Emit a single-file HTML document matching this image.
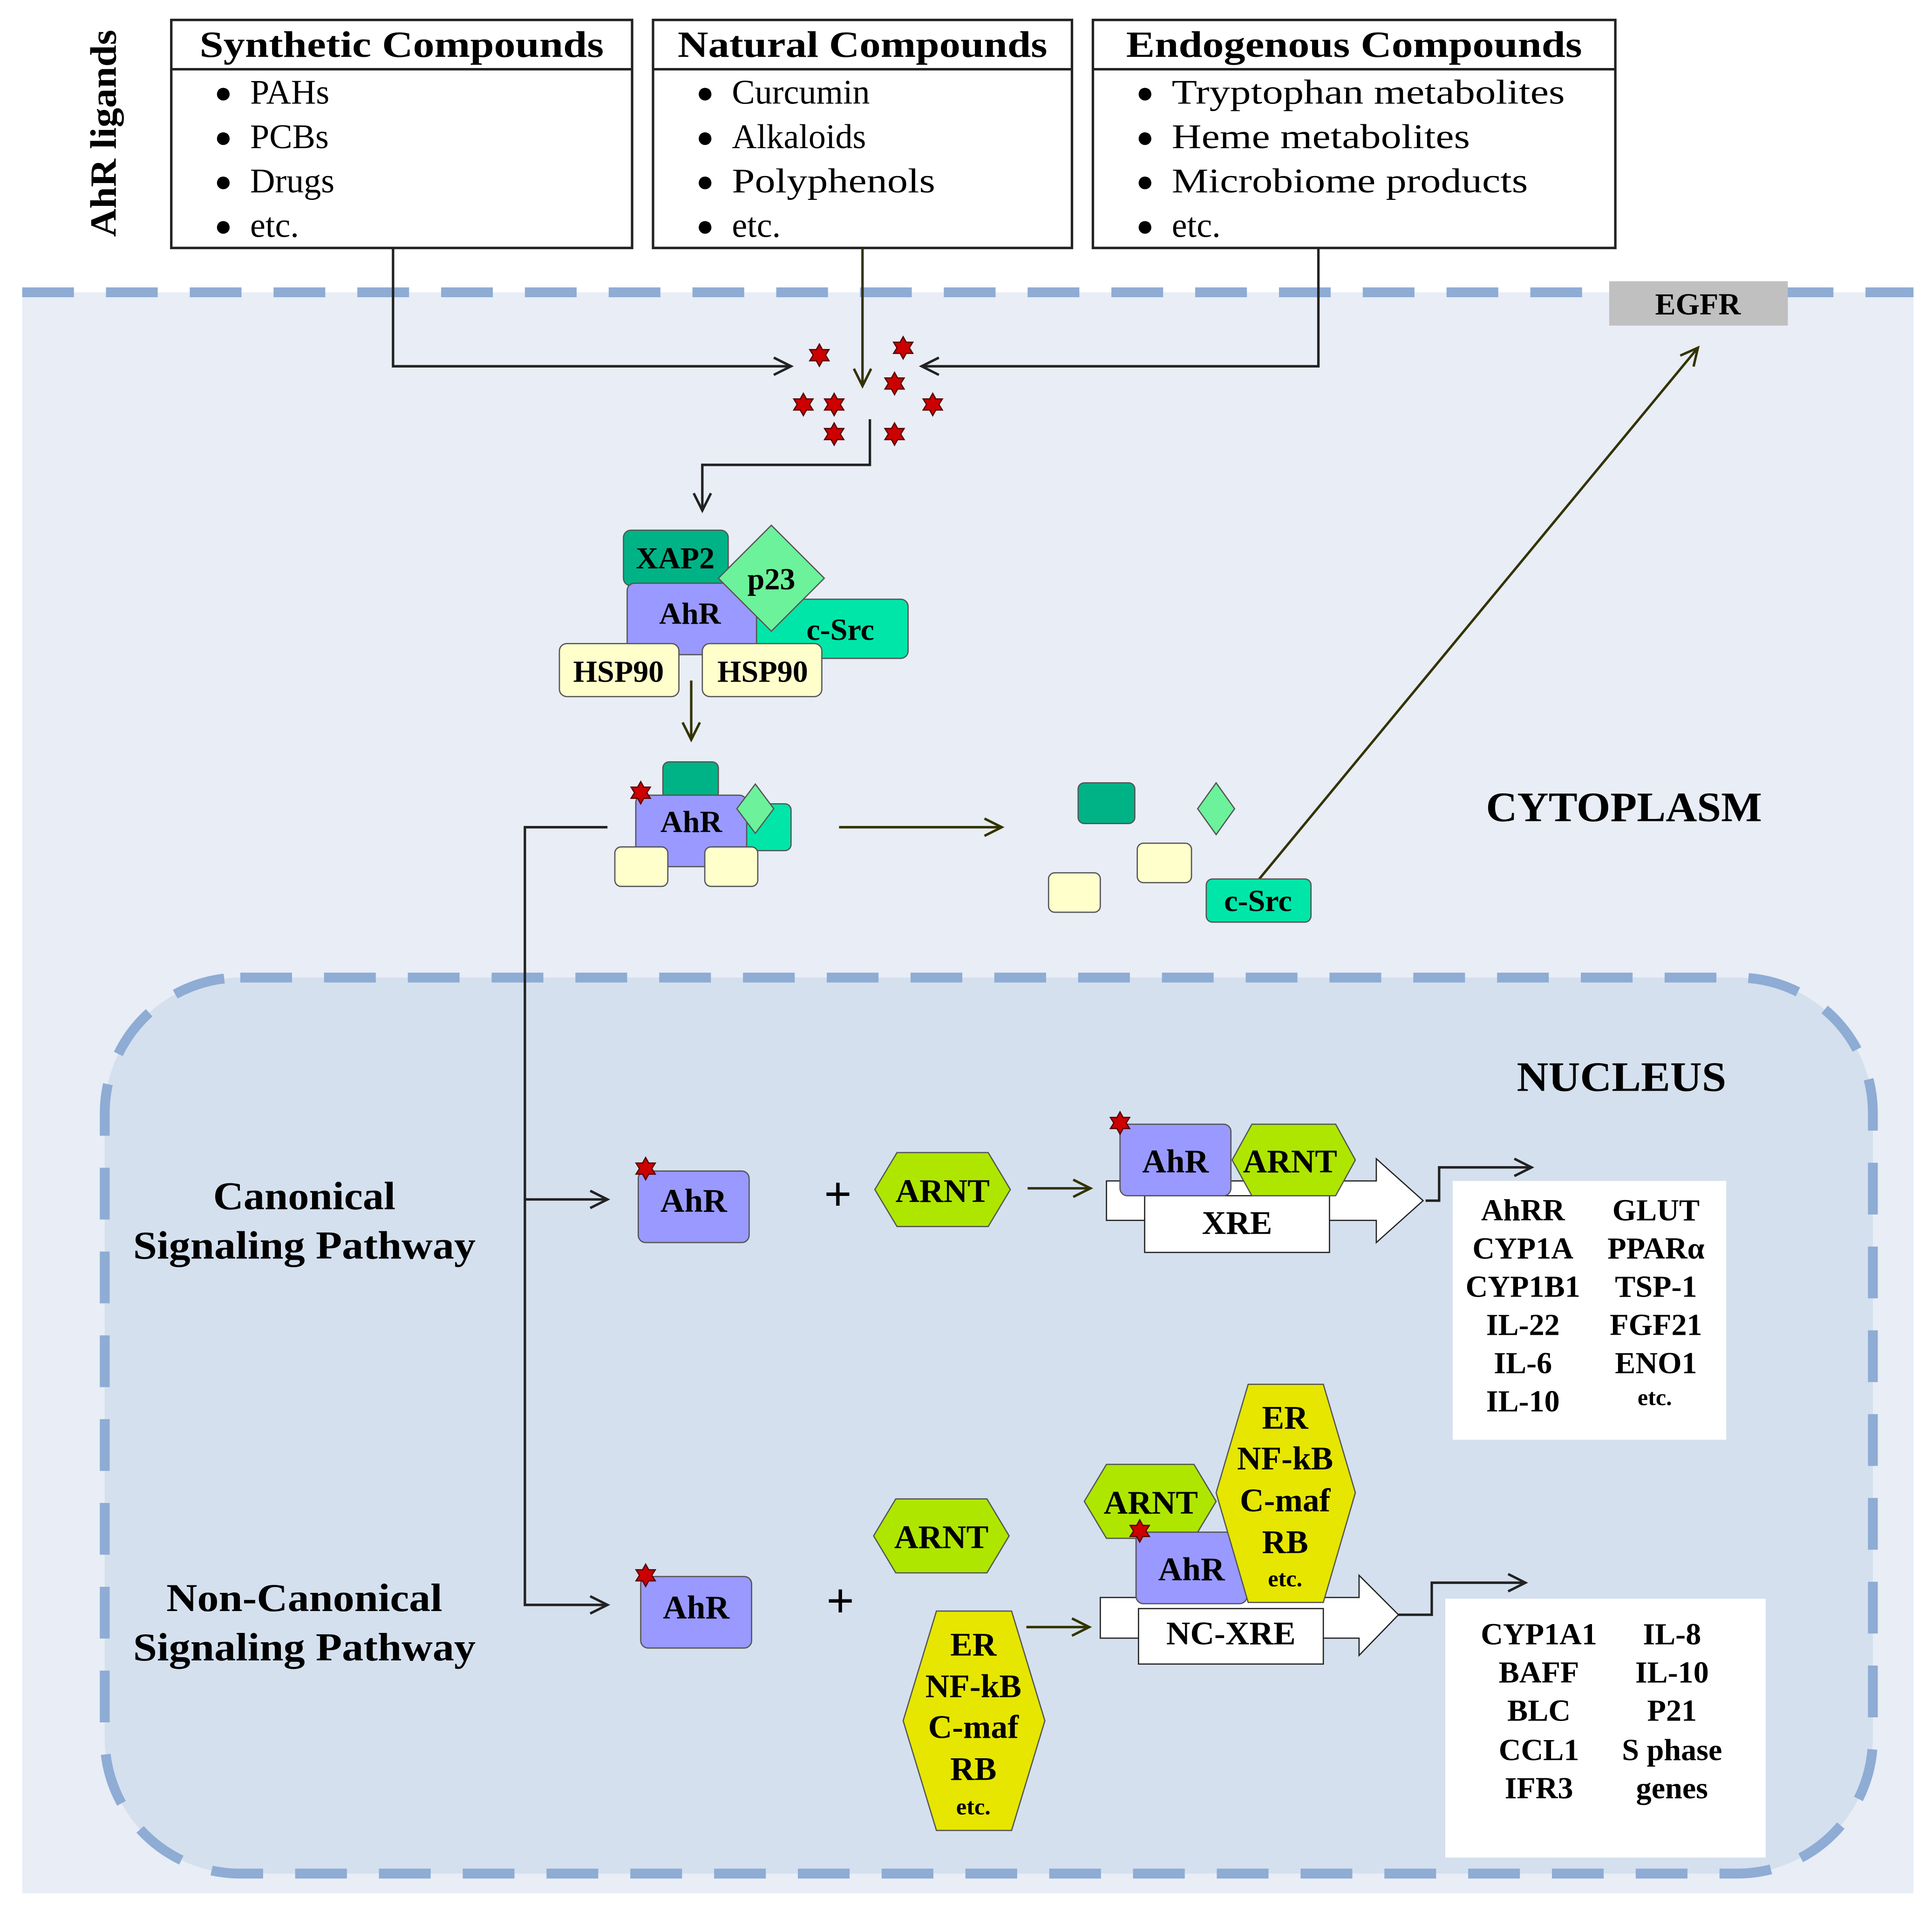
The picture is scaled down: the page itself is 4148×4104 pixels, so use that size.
<!DOCTYPE html>
<html><head><meta charset="utf-8"><style>html,body{margin:0;padding:0;background:#fff}svg{display:block}</style></head><body>
<svg width="4148" height="4104" viewBox="0 0 1568 1551" xmlns="http://www.w3.org/2000/svg" font-family="Liberation Serif, serif">
<defs>
<marker id="a" markerWidth="20" markerHeight="20" refX="16" refY="10" orient="auto" markerUnits="userSpaceOnUse"><path d="M2,3 L16,10 L2,17" fill="none" stroke="#222" stroke-width="2"/></marker>
<marker id="g" markerWidth="20" markerHeight="20" refX="16" refY="10" orient="auto" markerUnits="userSpaceOnUse"><path d="M2,3 L16,10 L2,17" fill="none" stroke="#333300" stroke-width="2"/></marker>
<g id="star"><polygon points="0,-9 2.5,-4.5 7.8,-4.5 5,0 7.8,4.5 2.5,4.5 0,9 -2.5,4.5 -7.8,4.5 -5,0 -7.8,-4.5 -2.5,-4.5" fill="#cc0000" stroke="#550000" stroke-width="1"/></g>
</defs>
<rect x="18" y="237" width="1535" height="1299" fill="#e8edf6"/>
<line x1="18" y1="237" x2="1553" y2="237" stroke="#8eacd4" stroke-width="8" stroke-dasharray="42,26"/>
<rect x="85" y="793" width="1435" height="727" rx="110" fill="#d4e0ee" stroke="#8eacd4" stroke-width="8" stroke-dasharray="42,26"/>

<text transform="translate(94,108) rotate(-90)" text-anchor="middle" font-weight="bold" font-size="30" textLength="168" lengthAdjust="spacingAndGlyphs">AhR ligands</text>

<g fill="#fff" stroke="#222" stroke-width="2">
<rect x="139" y="16" width="374" height="185"/><line x1="139" y1="56" x2="513" y2="56"/>
<rect x="530" y="16" width="340" height="185"/><line x1="530" y1="56" x2="870" y2="56"/>
<rect x="887" y="16" width="424" height="185"/><line x1="887" y1="56" x2="1311" y2="56"/>
</g>
<g font-size="30" font-weight="bold" text-anchor="middle" lengthAdjust="spacingAndGlyphs">
<text x="326" y="46" textLength="328" lengthAdjust="spacingAndGlyphs">Synthetic Compounds</text><text x="700" y="46" textLength="300" lengthAdjust="spacingAndGlyphs">Natural Compounds</text><text x="1099" y="46" textLength="370" lengthAdjust="spacingAndGlyphs">Endogenous Compounds</text>
</g>
<g font-size="28">
<g font-size="24"><text x="174" y="83">●</text><text x="174" y="119">●</text><text x="174" y="155">●</text><text x="174" y="191">●</text>
<text x="565" y="83">●</text><text x="565" y="119">●</text><text x="565" y="155">●</text><text x="565" y="191">●</text>
<text x="922" y="83">●</text><text x="922" y="119">●</text><text x="922" y="155">●</text><text x="922" y="191">●</text></g>
<g font-size="14"></g>
<text x="203" y="84">PAHs</text><text x="203" y="120">PCBs</text><text x="203" y="156">Drugs</text><text x="203" y="192">etc.</text>
<text x="594" y="84">Curcumin</text><text x="594" y="120">Alkaloids</text><text x="594" y="156" textLength="165" lengthAdjust="spacingAndGlyphs">Polyphenols</text><text x="594" y="192">etc.</text>
<text x="951" y="84" textLength="319" lengthAdjust="spacingAndGlyphs">Tryptophan metabolites</text><text x="951" y="120" textLength="242" lengthAdjust="spacingAndGlyphs">Heme metabolites</text><text x="951" y="156" textLength="289" lengthAdjust="spacingAndGlyphs">Microbiome products</text><text x="951" y="192">etc.</text>
</g>

<g fill="none" stroke="#222" stroke-width="2">
<polyline points="319,201 319,297 642,297" marker-end="url(#a)"/>
<polyline points="700,201 700,313" stroke="#333300" marker-end="url(#g)"/>
<polyline points="1070,201 1070,297 748,297" marker-end="url(#a)"/>
<polyline points="706,340 706,377 570,377 570,414" marker-end="url(#a)"/>
<polyline points="561,552 561,600" stroke="#333300" marker-end="url(#g)"/>
<polyline points="681,671 813,671" stroke="#333300" marker-end="url(#g)"/>
<polyline points="1022,713 1378,282" stroke="#333300" marker-end="url(#g)"/>
<polyline points="493,671 426,671 426,1302 493,1302" marker-end="url(#a)"/>
<polyline points="426,973 493,973" marker-end="url(#a)"/>
<polyline points="834,964 885,964" stroke="#333300" marker-end="url(#g)"/>
<polyline points="833,1320 884,1320" stroke="#333300" marker-end="url(#g)"/>
<polyline points="1157,974 1168,974 1168,947 1243,947" marker-end="url(#a)"/>
<polyline points="1135,1310 1162,1310 1162,1284 1238,1284" marker-end="url(#a)"/>
</g>

<use href="#star" x="665" y="288"/><use href="#star" x="733" y="282"/><use href="#star" x="726" y="311"/><use href="#star" x="652" y="328"/><use href="#star" x="677" y="328"/><use href="#star" x="757" y="328"/><use href="#star" x="677" y="352"/><use href="#star" x="726" y="352"/>

<g stroke="#555" stroke-width="1">
<rect x="506" y="430" width="85" height="45" rx="6" fill="#00b386"/>
<rect x="612" y="486" width="125" height="48" rx="6" fill="#00e6a8"/>
<rect x="509" y="473" width="105" height="58" rx="6" fill="#9999ff"/>
<polygon points="626,426 669,469 626,512 583,469" fill="#6cf29a"/>
<rect x="454" y="522" width="97" height="43" rx="6" fill="#ffffcc"/>
<rect x="570" y="522" width="97" height="43" rx="6" fill="#ffffcc"/>
</g>
<g font-size="25" font-weight="bold" text-anchor="middle">
<text x="548" y="461">XAP2</text><text x="626" y="478">p23</text><text x="560" y="506">AhR</text><text x="682" y="519">c-Src</text>
<text x="502" y="553">HSP90</text><text x="619" y="553">HSP90</text>
</g>

<g stroke="#555" stroke-width="1">
<rect x="538" y="618" width="45" height="30" rx="5" fill="#00b386"/>
<rect x="605" y="652" width="37" height="38" rx="5" fill="#00e6a8"/>
<rect x="516" y="645" width="90" height="58" rx="6" fill="#9999ff"/>
<polygon points="613,636 628,656 613,676 598,656" fill="#6cf29a"/>
<rect x="499" y="687" width="43" height="32" rx="5" fill="#ffffcc"/>
<rect x="572" y="687" width="43" height="32" rx="5" fill="#ffffcc"/>
<rect x="875" y="635" width="46" height="33" rx="5" fill="#00b386"/>
<polygon points="987,635 1002,656 987,677 972,656" fill="#6cf29a"/>
<rect x="923" y="684" width="44" height="32" rx="5" fill="#ffffcc"/>
<rect x="851" y="708" width="42" height="32" rx="5" fill="#ffffcc"/>
<rect x="979" y="713" width="85" height="35" rx="5" fill="#00e6a8"/>
<rect x="1306" y="228" width="145" height="36" fill="#c0c0c0" stroke="none"/>
</g>
<use href="#star" x="520" y="643"/>
<g font-size="25" font-weight="bold" text-anchor="middle">
<text x="561" y="675">AhR</text><text x="1021" y="739">c-Src</text><text x="1378" y="255">EGFR</text>
</g>
<g font-size="34" font-weight="bold" text-anchor="middle">
<text x="1318" y="666" textLength="224" lengthAdjust="spacingAndGlyphs">CYTOPLASM</text><text x="1316" y="885" textLength="170" lengthAdjust="spacingAndGlyphs">NUCLEUS</text>
</g>
<g font-size="32" font-weight="bold" text-anchor="middle">
<text x="247" y="981" textLength="148" lengthAdjust="spacingAndGlyphs">Canonical</text><text x="247" y="1021" textLength="278" lengthAdjust="spacingAndGlyphs">Signaling Pathway</text>
<text x="247" y="1307" textLength="224" lengthAdjust="spacingAndGlyphs">Non-Canonical</text><text x="247" y="1347" textLength="278" lengthAdjust="spacingAndGlyphs">Signaling Pathway</text>
<text x="680" y="982" font-size="40">+</text><text x="682" y="1312" font-size="40">+</text>
</g>

<g stroke="#555" stroke-width="1">
<rect x="518" y="950" width="90" height="58" rx="6" fill="#9999ff"/>
<polygon points="710,965 728,935 802,935 820,965 802,995 728,995" fill="#aee600"/>
<polygon points="898,958 1117,958 1117,940 1155,974 1117,1008 1117,990 898,990" fill="#fff" stroke="#222"/>
<rect x="929" y="970" width="150" height="46" fill="#fff" stroke="#222"/>
<rect x="909" y="912" width="90" height="58" rx="6" fill="#9999ff"/>
<polygon points="1000,941 1016,912 1084,912 1100,941 1084,970 1016,970" fill="#aee600"/>
<rect x="1179" y="958" width="222" height="210" fill="#fff" stroke="none"/>

<rect x="520" y="1279" width="90" height="58" rx="6" fill="#9999ff"/>
<polygon points="709,1246 727,1216 801,1216 819,1246 801,1276 727,1276" fill="#aee600"/>
<polygon points="733,1396 760,1307 821,1307 848,1396 821,1485 760,1485" fill="#e6e600"/>
<polygon points="893,1296 1103,1296 1103,1278 1135,1310 1103,1343 1103,1329 893,1329" fill="#fff" stroke="#222"/>
<rect x="924" y="1305" width="150" height="45" fill="#fff" stroke="#222"/>
<polygon points="880,1218 898,1188 969,1188 987,1218 969,1248 898,1248" fill="#aee600"/>
<rect x="922" y="1243" width="90" height="58" rx="6" fill="#9999ff"/>
<polygon points="987,1211 1013,1123 1074,1123 1100,1211 1074,1300 1013,1300" fill="#e6e600"/>
<rect x="1173" y="1297" width="260" height="210" fill="#fff" stroke="none"/>
</g>
<use href="#star" x="524" y="948"/><use href="#star" x="909" y="911"/><use href="#star" x="524" y="1278"/><use href="#star" x="925" y="1242"/>

<g font-size="27" font-weight="bold" text-anchor="middle">
<text x="563" y="983">AhR</text><text x="765" y="975">ARNT</text><text x="954" y="951">AhR</text><text x="1047" y="951">ARNT</text><text x="1004" y="1001">XRE</text>
<text x="565" y="1313">AhR</text><text x="764" y="1256">ARNT</text><text x="934" y="1228">ARNT</text><text x="967" y="1282">AhR</text><text x="999" y="1334">NC-XRE</text>
<text x="790" y="1343">ER</text><text x="790" y="1377">NF-kB</text><text x="790" y="1410">C-maf</text><text x="790" y="1444">RB</text>
<text x="1043" y="1159">ER</text><text x="1043" y="1192">NF-kB</text><text x="1043" y="1226">C-maf</text><text x="1043" y="1260">RB</text>
</g>
<g font-size="19" font-weight="bold" text-anchor="middle"><text x="790" y="1472">etc.</text><text x="1043" y="1287">etc.</text><text x="1343" y="1140">etc.</text></g>
<g font-size="25" font-weight="bold" text-anchor="middle">
<text x="1236" y="990">AhRR</text><text x="1236" y="1021">CYP1A</text><text x="1236" y="1052">CYP1B1</text><text x="1236" y="1083">IL-22</text><text x="1236" y="1114">IL-6</text><text x="1236" y="1145">IL-10</text>
<text x="1344" y="990">GLUT</text><text x="1344" y="1021">PPARα</text><text x="1344" y="1052">TSP-1</text><text x="1344" y="1083">FGF21</text><text x="1344" y="1114">ENO1</text>
<text x="1249" y="1334">CYP1A1</text><text x="1249" y="1365">BAFF</text><text x="1249" y="1396">BLC</text><text x="1249" y="1428">CCL1</text><text x="1249" y="1459">IFR3</text>
<text x="1357" y="1334">IL-8</text><text x="1357" y="1365">IL-10</text><text x="1357" y="1396">P21</text><text x="1357" y="1428">S phase</text><text x="1357" y="1459">genes</text>
</g>
</svg>
</body></html>
